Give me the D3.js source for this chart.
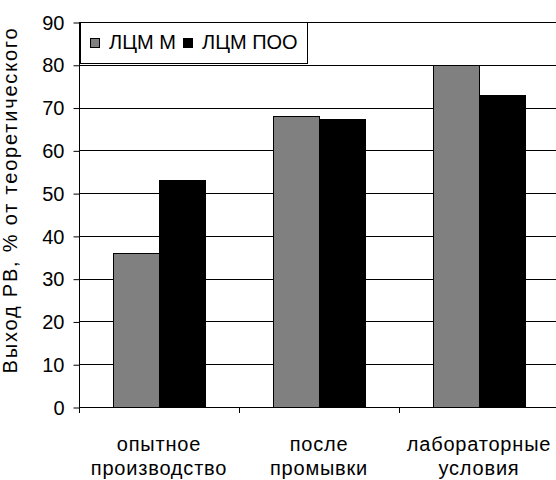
<!DOCTYPE html>
<html><head><meta charset="utf-8">
<script src="https://cdn.jsdelivr.net/npm/d3@7"></script>
<style>
html,body{margin:0;padding:0;background:#fff;}
svg{display:block;font-family:"Liberation Sans",Arial,sans-serif;}
</style></head>
<body>
<svg id="chart" width="556" height="480"></svg>
<script>
const categories = [["опытное","производство"],["после","промывки"],["лабораторные","условия"]];
const seriesNames = ["ЛЦМ М","ЛЦМ ПОО"];
const seriesColors = ["#808080","#000000"];
const valuesM   = [36, 68, 80];
const valuesPOO = [53, 67.3, 73];
const yTicks = [0,10,20,30,40,50,60,70,80,90];
const yTitle = "Выход РВ, % от теоретического";

const svg = d3.select("#chart");
const pLeft = 79, pRight = 559, pTop = 22, pBottom = 407;
const catKeys = categories.map((c,i)=>i);
const x0 = d3.scaleBand().domain(catKeys).range([pLeft,pRight]).paddingInner(0).paddingOuter(0);
const x1 = d3.scaleBand().domain([0,1]).range([0,x0.bandwidth()]).paddingInner(0).paddingOuter(0.739);
const y = d3.scaleLinear().domain([0,90]).range([pBottom,pTop]);

// gridlines
svg.append("g").selectAll("line").data(yTicks.filter(t=>t>0)).join("line")
  .attr("x1",pLeft).attr("x2",556)
  .attr("y1",d=>Math.round(y(d))+0.5).attr("y2",d=>Math.round(y(d))+0.5)
  .attr("stroke","#000").attr("stroke-width",1);

// bars
const series = [valuesM, valuesPOO];
const g = svg.append("g");
series.forEach((vals,si)=>{
  g.selectAll(null).data(vals).join("rect")
    .attr("x",(d,i)=>Math.round(x0(i)+x1(si))+0.5)
    .attr("y",d=>Math.round(y(d))+0.5)
    .attr("width",x1.bandwidth())
    .attr("height",d=>Math.round(y(0))-Math.round(y(d)))
    .attr("fill",seriesColors[si])
    .attr("stroke","#000").attr("stroke-width",1);
});

// y axis
const yAxis = d3.axisLeft(y).tickValues(yTicks).tickSize(6).tickPadding(9);
const ya = svg.append("g").attr("transform",`translate(${pLeft+0.5},0)`).call(yAxis);
ya.select(".domain").remove();
ya.selectAll(".tick line").attr("stroke","#000").attr("transform","translate(0,0.5)");
ya.selectAll(".tick text").attr("font-size",20).attr("font-family","Liberation Sans, Arial, sans-serif")
  .attr("fill","#000").attr("dy","0.36em");
svg.append("line").attr("x1",pLeft+0.5).attr("x2",pLeft+0.5).attr("y1",pTop).attr("y2",pBottom+6).attr("stroke","#000");

// x axis
svg.append("line").attr("x1",pLeft).attr("x2",556).attr("y1",pBottom+0.5).attr("y2",pBottom+0.5).attr("stroke","#000");
svg.append("g").selectAll("line").data(catKeys.slice(1)).join("line")
  .attr("x1",d=>Math.round(x0(d))+0.5).attr("x2",d=>Math.round(x0(d))+0.5)
  .attr("y1",pBottom).attr("y2",pBottom+6).attr("stroke","#000");

// x labels
const xl = svg.append("g").selectAll("text").data(categories).join("text")
  .attr("x",(d,i)=>x0(i)+x0.bandwidth()/2)
  .attr("y",451).attr("text-anchor","middle").attr("font-size",20).attr("letter-spacing","0.8px").attr("fill","#000");
xl.each(function(d){
  const t = d3.select(this);
  d.forEach((line,li)=>{
    t.append("tspan").attr("x",t.attr("x")).attr("dy",li===0?0:24).text(line);
  });
});

// y title
svg.append("text").attr("transform","translate(17,200) rotate(-90)")
  .attr("text-anchor","middle").attr("font-size",20).attr("letter-spacing","1.8px").attr("fill","#000").text(yTitle);

// legend
const lg = svg.append("g");
lg.append("rect").attr("x",80.5).attr("y",22.5).attr("width",227).attr("height",41)
  .attr("fill","#fff").attr("stroke","#000");
const legX = [90,183];
seriesNames.forEach((n,i)=>{
  lg.append("rect").attr("x",legX[i]+0.5).attr("y",38.5).attr("width",9).attr("height",9)
    .attr("fill",seriesColors[i]).attr("stroke","#000");
  lg.append("text").attr("x",legX[i]+19).attr("y",49).attr("font-size",20)
    .attr("fill","#000").text(n);
});
</script>
</body></html>
